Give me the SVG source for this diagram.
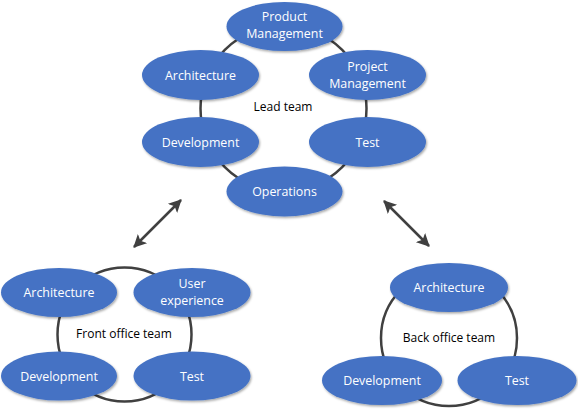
<svg xmlns="http://www.w3.org/2000/svg" width="578" height="409" viewBox="0 0 578 409">
<defs>
<filter id="sh" x="-20%" y="-20%" width="140%" height="150%">
<feDropShadow dx="1" dy="1.5" stdDeviation="1.2" flood-color="#000" flood-opacity="0.35"/>
</filter>
<marker id="ah" viewBox="0 0 13 13" refX="12" refY="6.5" markerWidth="13" markerHeight="13" markerUnits="userSpaceOnUse" orient="auto-start-reverse">
<path d="M0,0 L13,6.5 L0,13 L3,6.5 Z" fill="#404040"/>
</marker>
</defs>
<style>
.ring{fill:none;stroke:#404040;stroke-width:2.5}
.node ellipse{fill:#4472C4;filter:url(#sh)}
.node text{fill:#fff;font-family:"Open Sans","Liberation Sans",sans-serif;font-size:12.4px;text-anchor:middle}
.lbl{fill:#000;font-family:"Open Sans","Liberation Sans",sans-serif;font-size:12px;text-anchor:middle}
.arr{stroke:#404040;stroke-width:2.5;fill:none;marker-start:url(#ah);marker-end:url(#ah)}
</style>
<rect width="578" height="409" fill="#fff"/>
<g id="connectors">
<circle class="ring" cx="283.5" cy="108.5" r="83"/>
<circle class="ring" cx="124.5" cy="334.5" r="67"/>
<circle class="ring" cx="449" cy="338" r="68"/>
<line class="arr" x1="181" y1="200" x2="134" y2="247"/>
<line class="arr" x1="384" y1="201" x2="429" y2="246"/>
</g>
<text class="lbl" x="283" y="111">Lead team</text>
<text class="lbl" x="124" y="338">Front office team</text>
<text class="lbl" x="449" y="342">Back office team</text>
<g id="lead-product" class="node"><ellipse cx="284.5" cy="26.5" rx="58" ry="24.5"/><text x="284.5" y="21">Product</text><text x="284.5" y="38">Management</text></g>
<g id="lead-architecture" class="node"><ellipse cx="200.5" cy="75" rx="58.5" ry="25"/><text x="200.5" y="79.5">Architecture</text></g>
<g id="lead-project" class="node"><ellipse cx="367.5" cy="75" rx="58.5" ry="25"/><text x="367.5" y="71">Project</text><text x="367.5" y="88">Management</text></g>
<g id="lead-development" class="node"><ellipse cx="200.5" cy="142" rx="58.5" ry="25"/><text x="200.5" y="146.5">Development</text></g>
<g id="lead-test" class="node"><ellipse cx="367.5" cy="142" rx="58.5" ry="25"/><text x="367.5" y="146.5">Test</text></g>
<g id="lead-operations" class="node"><ellipse cx="284.5" cy="191.5" rx="58" ry="25"/><text x="284.5" y="196">Operations</text></g>
<g id="front-architecture" class="node"><ellipse cx="59" cy="292.5" rx="58" ry="24.5"/><text x="59" y="297">Architecture</text></g>
<g id="front-ux" class="node"><ellipse cx="192" cy="292.5" rx="58.5" ry="24.5"/><text x="192" y="288">User</text><text x="192" y="305">experience</text></g>
<g id="front-development" class="node"><ellipse cx="59" cy="376" rx="58" ry="24.5"/><text x="59" y="380.5">Development</text></g>
<g id="front-test" class="node"><ellipse cx="192" cy="376" rx="58.5" ry="24.5"/><text x="192" y="380.5">Test</text></g>
<g id="back-architecture" class="node"><ellipse cx="449" cy="287.5" rx="59" ry="24.5"/><text x="449" y="292">Architecture</text></g>
<g id="back-development" class="node"><ellipse cx="382" cy="380.5" rx="60" ry="24.5"/><text x="382" y="385">Development</text></g>
<g id="back-test" class="node"><ellipse cx="517" cy="380.5" rx="59.5" ry="24.5"/><text x="517" y="385">Test</text></g>
</svg>
